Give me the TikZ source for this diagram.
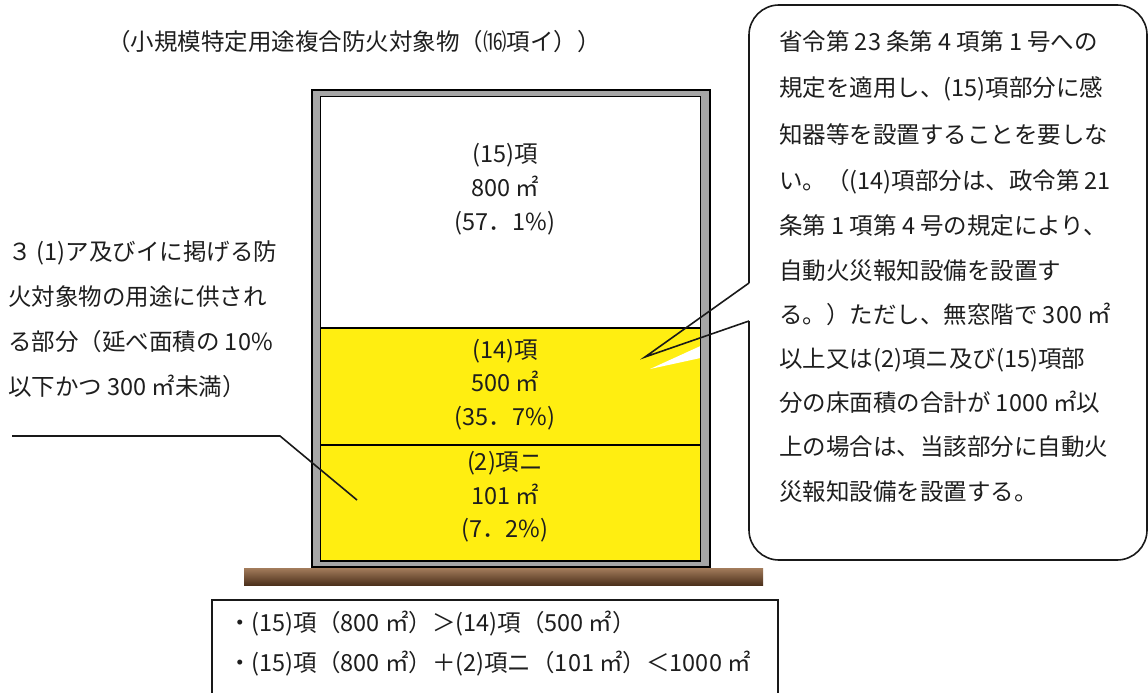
\documentclass[tikz,border=0pt]{standalone}
\usepackage{fontspec}
\setmainfont{Noto Sans CJK JP}
\definecolor{tcol}{RGB}{30,30,30}
\definecolor{ylw}{RGB}{255,238,17}
\definecolor{wallgray}{RGB}{166,166,166}
\definecolor{gtop}{RGB}{163,124,92}
\definecolor{gbot}{RGB}{76,48,27}
\newcommand\fsz{\fontsize{23.5pt}{28pt}\selectfont}
\tikzset{
  txt/.style={anchor=west, inner sep=0pt, text height=0.88em, text depth=0.12em, text=tcol, font=\fsz},
  ctxt/.style={txt, anchor=center},
  wallline/.style={draw=black, line width=1.2pt},
  sepline/.style={draw=black, line width=1.5pt},
  conn/.style={draw=black!90, line width=1.6pt},
  bubble/.style={draw=black!90, line width=1.6pt},
}
\begin{document}
\begin{tikzpicture}[x=1pt,y=-1pt]
\clip (0,0) rectangle (1148,693);
\fill[white] (0,0) rectangle (1148,693);

% title
\node[ctxt] (title) at (354,47) {（小規模特定用途複合防火対象物（⒃項イ））};

% building
\fill[wallgray] (312,90) rectangle (710,567);
\draw[wallline] (312,90) rectangle (710,567);
\fill[white] (320.5,96.5) rectangle (700.5,561);
\fill[ylw] (320.5,328) rectangle (700.5,561);
\fill[white] (650,369) -- (700.5,346) -- (700.5,358) -- cycle;
\draw[wallline] (320.5,96.5) rectangle (700.5,561);
\draw[sepline] (320.5,328) -- (700.5,328);
\draw[sepline] (320.5,445) -- (700.5,445);

% ground
\fill[top color=gtop, bottom color=gbot] (244,568) rectangle (763,585);

% room labels
\node[ctxt] (a1) at (505,159) {(15)項};
\node[ctxt] (a2) at (505,193) {800 ㎡};
\node[ctxt] (a3) at (505,227) {(57．1\%)};
\node[ctxt] (b1) at (505,355) {(14)項};
\node[ctxt] (b2) at (505,388) {500 ㎡};
\node[ctxt] (b3) at (505,422) {(35．7\%)};
\node[ctxt] (c1) at (505,467) {(2)項ニ};
\node[ctxt] (c2) at (505,501) {101 ㎡};
\node[ctxt] (c3) at (505,534) {(7．2\%)};

% left note
\node[txt] (l1) at (8,257) {３ (1)ア及びイに掲げる防};
\node[txt] (l2) at (8,302) {火対象物の用途に供され};
\node[txt] (l3) at (8,347) {る部分（延べ面積の 10\%};
\node[txt] (l4) at (8,392) {以下かつ 300 ㎡未満）};
\coordinate (L1) at (12,436);
\coordinate (L2) at (280,436);
\coordinate (L3) at (357,500);
\draw[conn] (L1) -- (L2) -- (L3);

% callout
\coordinate (P1) at (749,283);
\coordinate (P2) at (749,321);
\coordinate (tip) at (645,357);
\draw[bubble, rounded corners=30pt, line join=round] (P1) -- (749,5) -- (1147,5) -- (1147,560) -- (749,560) -- (P2);
\draw[bubble, line join=miter] (P1) -- (tip) -- (P2);

\node[txt] (r1) at (779,47) {省令第 23 条第 4 項第 1 号への};
\node[txt] (r2) at (779,93) {規定を適用し、(15)項部分に感};
\node[txt] (r3) at (779,140) {知器等を設置することを要しな};
\node[txt] (r4) at (779,186) {い。（(14)項部分は、政令第 21};
\node[txt] (r5) at (779,231) {条第 1 項第 4 号の規定により、};
\node[txt] (r6) at (779,276) {自動火災報知設備を設置す};
\node[txt] (r7) at (779,320) {る。）ただし、無窓階で 300 ㎡};
\node[txt] (r8) at (779,364) {以上又は(2)項ニ及び(15)項部};
\node[txt] (r9) at (779,408) {分の床面積の合計が 1000 ㎡以};
\node[txt] (r10) at (779,452) {上の場合は、当該部分に自動火};
\node[txt] (r11) at (779,497) {災報知設備を設置する。};

% bottom box
\draw[conn, line width=1.3pt] (212,720) -- (212,600) -- (778,600) -- (778,720);
\node[txt] (s1) at (228,628) {・(15)項（800 ㎡）＞(14)項（500 ㎡）};
\node[txt] (s2) at (228,668) {・(15)項（800 ㎡）＋(2)項ニ（101 ㎡）＜1000 ㎡};
\end{tikzpicture}
\end{document}
